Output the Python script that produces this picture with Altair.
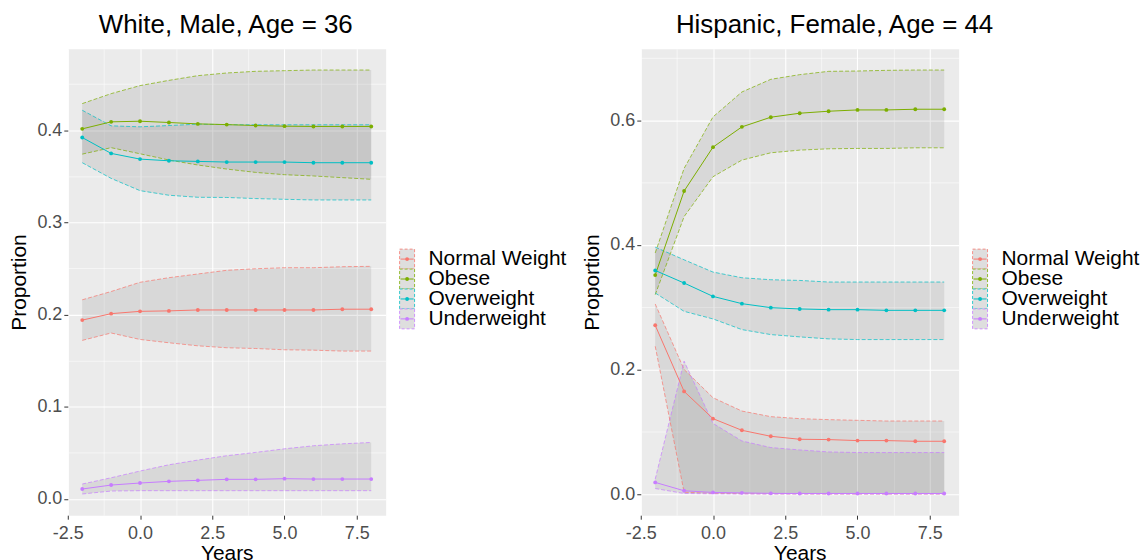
import json
import altair as alt
import pandas as pd

FONT = "Liberation Sans"

years = [-2, -1, 0, 1, 2, 3, 4, 5, 6, 7, 8]
categories = ["Normal Weight", "Obese", "Overweight", "Underweight"]
palette = ["#F8766D", "#7CAE00", "#00BFC4", "#C77CFF"]

x_major = [-2.5, 0.0, 2.5, 5.0, 7.5]
x_minor = [-1.25, 1.25, 3.75, 6.25]
wm_y_major = [0.0, 0.1, 0.2, 0.3, 0.4]
wm_y_minor = [0.05, 0.15, 0.25, 0.35, 0.45]
hf_y_major = [0.0, 0.2, 0.4, 0.6]
hf_y_minor = [0.1, 0.3, 0.5, 0.7]

# ---- White, Male, Age = 36 ----
wm_normal_mean = [0.194, 0.201, 0.2035, 0.204, 0.205, 0.205, 0.205, 0.205, 0.205, 0.2058, 0.2058]
wm_normal_hi = [0.216, 0.225, 0.235, 0.240, 0.244, 0.248, 0.2497, 0.2508, 0.2508, 0.2519, 0.2523]
wm_normal_lo = [0.172, 0.180, 0.173, 0.1694, 0.1661, 0.164, 0.1632, 0.1618, 0.1614, 0.1604, 0.1604]

wm_obese_mean = [0.4014, 0.409, 0.4097, 0.4083, 0.4068, 0.406, 0.405, 0.4043, 0.404, 0.404, 0.404]
wm_obese_hi = [0.4288, 0.4396, 0.4483, 0.454, 0.4591, 0.462, 0.4638, 0.4645, 0.4652, 0.4652, 0.4652]
wm_obese_lo = [0.374, 0.381, 0.3744, 0.3676, 0.3622, 0.3578, 0.3542, 0.3517, 0.3503, 0.3485, 0.3467]

wm_over_mean = [0.392, 0.3748, 0.3686, 0.3668, 0.3661, 0.3654, 0.3654, 0.3654, 0.3647, 0.3647, 0.3647]
wm_over_hi = [0.4216, 0.4047, 0.4036, 0.405, 0.4065, 0.406, 0.4058, 0.4058, 0.4058, 0.4058, 0.4058]
wm_over_lo = [0.3647, 0.3477, 0.3344, 0.3294, 0.3272, 0.327, 0.3258, 0.325, 0.3243, 0.3243, 0.3243]

wm_under_mean = [0.0108, 0.0151, 0.0173, 0.0191, 0.0202, 0.0213, 0.0213, 0.022, 0.0216, 0.0216, 0.0216]
wm_under_hi = [0.0162, 0.023, 0.0303, 0.0371, 0.0422, 0.0469, 0.0505, 0.0544, 0.0577, 0.0598, 0.0613]
wm_under_lo = [0.0054, 0.0086, 0.009, 0.009, 0.009, 0.009, 0.009, 0.009, 0.009, 0.009, 0.009]

# ---- Hispanic, Female, Age = 44 ----
hf_normal_mean = [0.2709, 0.1648, 0.1211, 0.1024, 0.0928, 0.088, 0.0875, 0.0859, 0.0859, 0.0848, 0.0848]
hf_normal_hi = [0.3051, 0.200, 0.1547, 0.1333, 0.1243, 0.1211, 0.1195, 0.1184, 0.1173, 0.1173, 0.1173]
hf_normal_lo = [0.2373, 0.003, 0.0012, 0.0008, 0.0005, 0.0004, 0.0003, 0.0003, 0.0003, 0.0003, 0.0003]

hf_obese_mean = [0.3515, 0.4864, 0.5568, 0.5893, 0.6048, 0.6112, 0.6144, 0.6165, 0.6165, 0.6176, 0.6176]
hf_obese_hi = [0.387, 0.5227, 0.6053, 0.6453, 0.6656, 0.6731, 0.6784, 0.6789, 0.68, 0.6805, 0.6805]
hf_obese_lo = [0.32, 0.4453, 0.5093, 0.536, 0.5477, 0.552, 0.5541, 0.5547, 0.5547, 0.5557, 0.5557]

hf_over_mean = [0.3589, 0.3387, 0.3173, 0.3056, 0.2992, 0.2971, 0.296, 0.296, 0.2949, 0.2949, 0.2949]
hf_over_hi = [0.3963, 0.376, 0.3563, 0.3472, 0.344, 0.3429, 0.3403, 0.3403, 0.3403, 0.3403, 0.3403]
hf_over_lo = [0.3227, 0.2933, 0.2811, 0.264, 0.256, 0.2523, 0.2491, 0.248, 0.248, 0.248, 0.248]

hf_under_mean = [0.0188, 0.0054, 0.0027, 0.002, 0.0012, 0.001, 0.001, 0.001, 0.001, 0.001, 0.001]
hf_under_hi = [0.024, 0.2133, 0.1136, 0.0853, 0.0747, 0.0709, 0.0677, 0.0667, 0.0667, 0.0667, 0.0667]
hf_under_lo = [0.009, 0.001, 0.0005, 0.0003, 0.0002, 0.0002, 0.0002, 0.0002, 0.0002, 0.0002, 0.0002]


def long_table(means, lows, highs):
    rows = []
    for cat, m, l, h in zip(categories, means, lows, highs):
        for yr, a, b, c in zip(years, m, l, h):
            rows.append({"cat": cat, "year": yr, "mean": a, "lo": b, "hi": c})
    return pd.DataFrame(rows)


def padded(lo, hi, frac=0.05):
    r = hi - lo
    return [lo - frac * r, hi + frac * r]


def make_axis(major, minor, title, label_pad, title_pad):
    ticks = sorted(major + minor)
    is_major = "indexof(%s, datum.value) >= 0" % json.dumps(major)
    return alt.Axis(
        values=ticks,
        title=title,
        labelExpr="(%s) ? (datum.value < 0 ? '-' : '') + format(abs(datum.value), '.1f') : ''" % is_major,
        labelOverlap=False,
        labelFlush=False,
        labelPadding=label_pad,
        titlePadding=title_pad,
        grid=True,
        gridColor="white",
        gridWidth={"condition": {"test": is_major, "value": 1.1}, "value": 0.55},
        tickOpacity={"condition": {"test": is_major, "value": 1}, "value": 0},
    )


color_scale = alt.Scale(domain=categories, range=palette)


def panel(df, title, dx, y_major, y_minor, w, h):
    xdom = padded(min(years), max(years))
    ydom = padded(df["lo"].min(), df["hi"].max())
    xs = alt.Scale(domain=xdom, nice=False, zero=False)
    ys = alt.Scale(domain=ydom, nice=False, zero=False)
    x = alt.X("year:Q", scale=xs, axis=make_axis(x_major, x_minor, "Years", 5, 0), title="Years")
    yax = make_axis(y_major, y_minor, "Proportion", 2, 7)
    col = alt.Color("cat:N", scale=color_scale, legend=None)
    base = alt.Chart(df)
    ribbon = base.mark_area(fill="#333333", fillOpacity=0.1).encode(
        x=x,
        y=alt.Y("hi:Q", scale=ys, axis=yax, title="Proportion"),
        y2="lo:Q",
        detail="cat:N",
    )
    upper = base.mark_line(strokeDash=[4, 2], strokeWidth=1, opacity=0.7).encode(
        x=x, y=alt.Y("hi:Q", scale=ys, title="Proportion"), color=col
    )
    lower = base.mark_line(strokeDash=[4, 2], strokeWidth=1, opacity=0.7).encode(
        x=x, y=alt.Y("lo:Q", scale=ys, title="Proportion"), color=col
    )
    line = base.mark_line(strokeWidth=1).encode(
        x=x, y=alt.Y("mean:Q", scale=ys, title="Proportion"), color=col
    )
    pts = base.mark_point(filled=True, size=15, opacity=1).encode(
        x=x, y=alt.Y("mean:Q", scale=ys, title="Proportion"), color=col
    )
    return alt.layer(ribbon, upper, lower, line, pts).properties(
        width=w,
        height=h,
        title=alt.TitleParams(text=title, dx=dx, offset=11),
        view=alt.ViewBackground(fill="#EBEBEB", stroke="transparent"),
    )


def legend_view(w, h):
    ldf = pd.DataFrame({"cat": categories})
    ly = alt.Y(
        "cat:N",
        scale=alt.Scale(type="band", domain=categories, range=[201, 281], paddingInner=0, paddingOuter=0),
        axis=None,
    )
    lb = alt.Chart(ldf)
    box = lb.mark_rect(fill="#DEDEDE", strokeDash=[3, 2], strokeWidth=1, strokeOpacity=0.8).encode(
        x=alt.value(14), x2=alt.value(29), y=ly,
        stroke=alt.Stroke("cat:N", scale=color_scale, legend=None),
    )
    rule = lb.mark_rule(strokeWidth=1).encode(
        x=alt.value(15), x2=alt.value(28), y=ly, color=alt.Color("cat:N", scale=color_scale, legend=None)
    )
    dot = lb.mark_point(filled=True, size=15, opacity=1).encode(
        x=alt.value(21.5), y=ly, color=alt.Color("cat:N", scale=color_scale, legend=None)
    )
    txt = lb.mark_text(align="left", baseline="middle", fontSize=21, font=FONT, color="black").encode(
        x=alt.value(43), y=ly, text="cat:N"
    )
    return alt.layer(box, rule, dot, txt).properties(
        width=w, height=h, view=alt.ViewBackground(stroke="transparent")
    )


wm = long_table(
    [wm_normal_mean, wm_obese_mean, wm_over_mean, wm_under_mean],
    [wm_normal_lo, wm_obese_lo, wm_over_lo, wm_under_lo],
    [wm_normal_hi, wm_obese_hi, wm_over_hi, wm_under_hi],
)
hf = long_table(
    [hf_normal_mean, hf_obese_mean, hf_over_mean, hf_under_mean],
    [hf_normal_lo, hf_obese_lo, hf_over_lo, hf_under_lo],
    [hf_normal_hi, hf_obese_hi, hf_over_hi, hf_under_hi],
)

H = 468
left = panel(wm, "White, Male, Age = 36", -1, wm_y_major, wm_y_minor, 319, H)
right = panel(hf, "Hispanic, Female, Age = 44", 35, hf_y_major, hf_y_minor, 319, H)

chart = (
    alt.hconcat(left, legend_view(256, H), right, legend_view(175, H), spacing=0, bounds="flush")
    .resolve_scale(x="independent", y="independent")
    .properties(padding={"left": 0, "top": 2, "right": 0, "bottom": 0})
    .configure_axis(
        domain=False,
        labelFont=FONT,
        titleFont=FONT,
        labelFontSize=18,
        titleFontSize=21,
        labelColor="#4D4D4D",
        titleColor="black",
        titleFontWeight="normal",
        tickColor="#333333",
        tickSize=4,
    )
    .configure_title(font=FONT, fontSize=26, fontWeight="normal", color="black", anchor="middle")
)

chart.save("out.html", embed_options={"renderer": "svg", "actions": False})
